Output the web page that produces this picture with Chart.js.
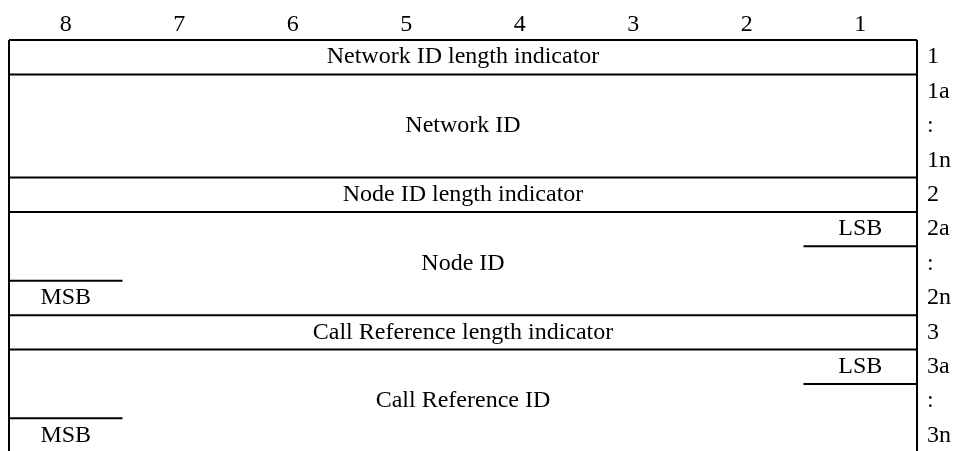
<!DOCTYPE html>
<html>
<head>
<meta charset="utf-8">
<script src="https://cdn.jsdelivr.net/npm/chart.js@4/dist/chart.umd.min.js"></script>
<style>
  body { margin: 0; background: #fff; }
  #wrap { width: 954px; height: 451px; }
</style>
</head>
<body>
<div id="wrap"><canvas id="octets"></canvas></div>
<script>
// bit numbers across the top, octet numbers down the right side
var bitLabels = ['8', '7', '6', '5', '4', '3', '2', '1'];
var octetLabels = ['1', '1a', ':', '1n', '2', '2a', ':', '2n', '3', '3a', ':', '3n'];

// fields: name, first row, last row (rows count from 0)
var fieldNames = ['Network ID length indicator', 'Network ID', 'Node ID length indicator', 'Node ID', 'Call Reference length indicator', 'Call Reference ID'];
var fieldFirstRow = [0, 1, 4, 5, 8, 9];
var fieldLastRow = [0, 3, 4, 7, 8, 11];

// LSB / MSB marks inside the multi-octet fields: text, row, bit column
var markText = ['LSB', 'MSB', 'LSB', 'MSB'];
var markRow = [5, 7, 9, 11];
var markBit = [1, 8, 1, 8];

var ctx = document.getElementById('octets');

function colOf(bit) { return 8 - bit; }

// build the border segments from the tables above
var segments = [];
segments.push([{x: 0, y: 0}, {x: 0, y: 12}]);
segments.push([{x: 8, y: 0}, {x: 8, y: 12}]);
for (var i = 0; i < fieldNames.length; i++) {
    segments.push([{x: 0, y: fieldFirstRow[i]}, {x: 8, y: fieldFirstRow[i]}]);
}
for (var m = 0; m < markText.length; m++) {
    var c = colOf(markBit[m]);
    // LSB sits above its rule, MSB sits below its rule
    var ry = markText[m] === 'LSB' ? markRow[m] + 1 : markRow[m];
    segments.push([{x: c, y: ry}, {x: c + 1, y: ry}]);
}

var datasets = segments.map(function(seg) {
    return {
        data: seg,
        showLine: true,
        borderColor: '#000',
        borderWidth: 2,
        pointRadius: 0,
        clip: false
    };
});

var textPlugin = {
    id: 'fieldText',
    afterDatasetsDraw: function(chart) {
        var c = chart.ctx;
        var xs = chart.scales.x, ys = chart.scales.y;
        c.save();
        c.fillStyle = '#000';
        c.font = '24px "Liberation Serif", "Times New Roman", serif';
        c.textAlign = 'center';
        c.textBaseline = 'middle';
        for (var i = 0; i < fieldNames.length; i++) {
            var yMid = (fieldFirstRow[i] + fieldLastRow[i] + 1) / 2;
            c.fillText(fieldNames[i], xs.getPixelForValue(4), ys.getPixelForValue(yMid));
        }
        for (var m = 0; m < markText.length; m++) {
            var col = colOf(markBit[m]);
            c.fillText(markText[m], xs.getPixelForValue(col + 0.5), ys.getPixelForValue(markRow[m] + 0.5));
        }
        c.restore();
    }
};

Chart.defaults.font.family = '"Liberation Serif", "Times New Roman", serif';
Chart.defaults.font.size = 24;
Chart.defaults.color = '#000';

var diagram = new Chart(ctx, {
    type: 'scatter',
    data: { datasets: datasets },
    options: {
        responsive: true,
        maintainAspectRatio: false,
        animation: false,
        layout: { padding: { left: 9, top: 0, right: 0, bottom: 0 } },
        plugins: { legend: { display: false }, tooltip: { enabled: false } },
        scales: {
            x: {
                type: 'linear',
                position: 'top',
                min: 0,
                max: 8,
                grid: { display: false, drawTicks: false },
                border: { display: false },
                afterBuildTicks: function(axis) {
                    axis.ticks = bitLabels.map(function(b, i) { return { value: i + 0.5 }; });
                },
                afterFit: function(axis) {
                    axis.height = 40;
                    axis.paddingLeft = 0;
                    axis.paddingRight = 0;
                },
                ticks: {
                    padding: 1,
                    maxRotation: 0,
                    autoSkip: false,
                    callback: function(v, i) { return bitLabels[i]; }
                }
            },
            y: {
                type: 'linear',
                position: 'right',
                reverse: true,
                min: 0,
                max: 11.95,
                grid: { display: false, drawTicks: false },
                border: { display: false },
                afterBuildTicks: function(axis) {
                    axis.ticks = octetLabels.map(function(o, i) { return { value: i + 0.5 }; });
                },
                afterFit: function(axis) {
                    axis.width = 37;
                    axis.paddingTop = 0;
                    axis.paddingBottom = 0;
                },
                ticks: {
                    padding: 10,
                    autoSkip: false,
                    callback: function(v, i) { return octetLabels[i]; }
                }
            }
        }
    },
    plugins: [textPlugin]
});
</script>
</body>
</html>
